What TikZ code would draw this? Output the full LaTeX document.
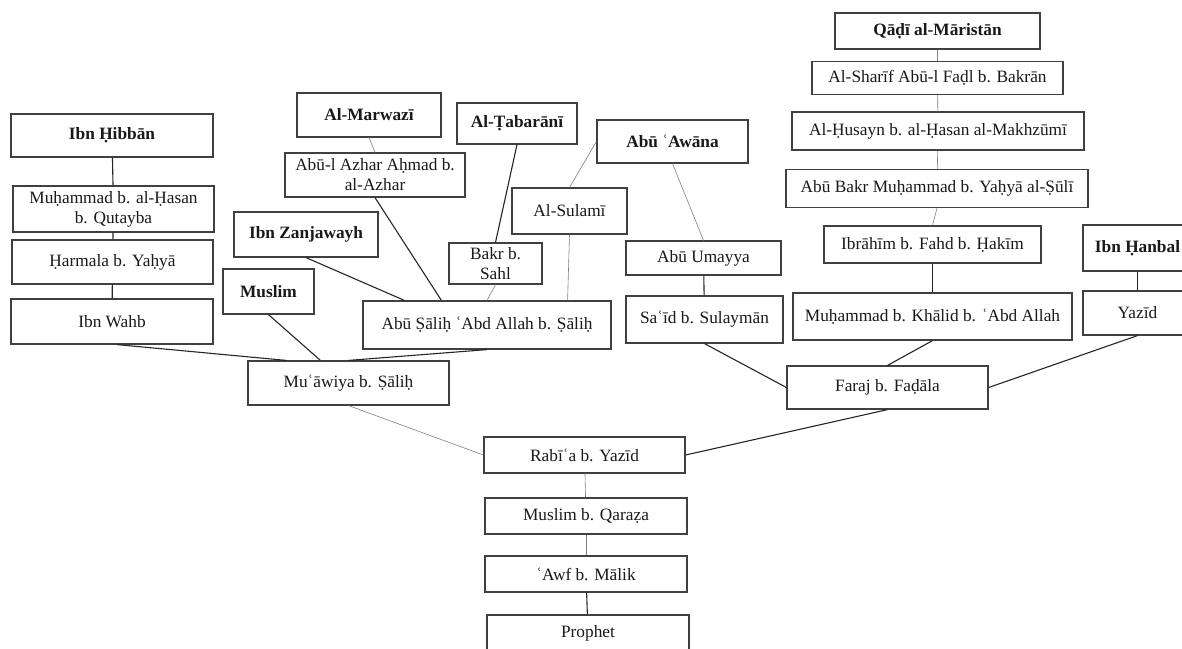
\documentclass[tikz,border=0pt]{standalone}
\usepackage{fontspec}
\setmainfont{Liberation Serif}
\usetikzlibrary{calc}

\tikzset{
  box/.style={draw=black!75, line width=1.2pt, fill=white, inner sep=0pt,
    align=center, text=black!90, font=\fontsize{17.3}{20}\selectfont},
  head/.style={box, font=\fontsize{17.3}{20}\selectfont\bfseries},
  link/.style={draw=black!85, line width=1.1pt},
  faint/.style={draw=black!50, line width=0.6pt},
}

% place a box by its pixel centre and size
\newcommand{\bx}[6][box]{%
  \node[#1, minimum width=#4pt, minimum height=#5pt] (#2) at (#3) {#6};}

\begin{document}
\begin{tikzpicture}[x=1pt, y=-1pt]
\useasboundingbox (0,0) rectangle (1182,648);
\clip (0,0) rectangle (1182,648);
\fill[white] (0,0) rectangle (1182,648);

% --- Ibn Hibban chain
\bx[head]{hibban}{112,135.5}{202}{43}{Ibn Ḥibbān}
\bx{qutayba}{113.5,209}{201}{46}{Muḥammad b. al-Ḥasan\\b. Qutayba}
\bx{harmala}{112.5,262}{201}{44}{Ḥarmala b. Yaḥyā}
\bx{wahb}{112,321.5}{202}{45}{Ibn Wahb}

% --- collectors around Abu Salih
\bx[head]{muslim}{268.5,291.5}{91}{45}{Muslim}
\bx[head]{zanjawayh}{306,234.5}{144}{45}{Ibn Zanjawayh}
\bx[head]{marwazi}{369,115}{144}{44}{Al-Marwazī}
\bx{azhar}{375,175}{180}{44}{Abū-l Azhar Aḥmad b.\\al-Azhar}
\bx[head]{tabarani}{517,123.5}{120}{41}{Al-Ṭabarānī}
\bx{bakr}{495.5,263.5}{93}{41}{Bakr b.\\Sahl}
\bx{sulami}{569.5,211}{115}{46}{Al-Sulamī}
\bx[head]{awana}{672.5,141.5}{151}{43}{Abū ʿAwāna}
\bx{abusalih}{487,325}{248}{48}{Abū Ṣāliḥ ʿAbd Allah b. Ṣāliḥ}
\bx{muawiya}{348.5,383}{201}{44}{Muʿāwiya b. Ṣāliḥ}

% --- Faraj branch
\bx{umayya}{703.5,258}{155}{34}{Abū Umayya}
\bx{said}{704.5,319.5}{157}{47}{Saʿīd b. Sulaymān}
\bx[head]{qadi}{937.5,31}{205}{36}{Qāḍī al-Māristān}
\bx{sharif}{937.5,78}{251}{33}{Al-Sharīf Abū-l Faḍl b. Bakrān}
\bx{husayn}{938,131}{292}{38}{Al-Ḥusayn b. al-Ḥasan al-Makhzūmī}
\bx{suli}{937,188.5}{302}{38}{Abū Bakr Muḥammad b. Yaḥyā al-Ṣūlī}
\bx{ibrahim}{932.5,244.5}{217}{37}{Ibrāhīm b. Fahd b. Ḥakīm}
\bx{khalid}{932.5,316.5}{279}{47}{Muḥammad b. Khālid b. ʿAbd Allah}
\bx[head]{hanbal}{1137.5,248}{109}{46}{Ibn Ḥanbal}
\bx{yazid}{1137.5,313}{109}{44}{Yazīd}
\bx{faraj}{887.5,387.5}{201}{43}{Faraj b. Faḍāla}

% --- common trunk
\bx{rabia}{584.5,455}{201}{36}{Rabīʿa b. Yazīd}
\bx{qaraza}{586,516}{202}{36}{Muslim b. Qaraẓa}
\bx{awf}{586,574}{202}{36}{ʿAwf b. Mālik}
\bx{prophet}{588,633.5}{202}{37}{Prophet}

% --- connectors
\draw[link] (hibban) -- (qutayba);
\draw[link] (qutayba) -- (harmala);
\draw[link] (harmala) -- (wahb);
\draw[link] ($(wahb.south)+(5,0)$) -- ($(muawiya.north west)+(39,0)$);
\draw[link] (muslim.south) -- ($(muawiya.north west)+(73,0)$);
\draw[link] (abusalih.south) -- (muawiya.north);
\draw[link] (zanjawayh.south) -- ($(abusalih.north west)+(42,0)$);
\draw[faint] (marwazi.south) -- (azhar.north);
\draw[link] (azhar.south) -- ($(abusalih.north west)+(79,0)$);
\draw[link] (tabarani.south) -- (bakr.north);
\draw[faint] (bakr.south) -- (abusalih.north);
\draw[faint] (awana.west) -- (sulami.north);
\draw[faint] (sulami.south) -- ($(abusalih.north east)+(-44,0)$);
\draw[faint] (awana.south) -- (umayya.north);
\draw[link] (umayya) -- (said);
\draw[link] (said.south) -- (faraj.west);
\draw[faint] (qadi) -- (sharif);
\draw[faint] (sharif) -- (husayn);
\draw[faint] (husayn) -- (suli);
\draw[faint] (suli.south) -- (ibrahim.north);
\draw[link] (ibrahim) -- (khalid);
\draw[link] (khalid.south) -- (faraj.north);
\draw[link] (hanbal) -- (yazid);
\draw[link] (yazid.south) -- (faraj.east);
\draw[link] (faraj.south) -- (rabia.east);
\draw[faint] (muawiya.south) -- (rabia.west);
\draw[faint] (rabia) -- (qaraza);
\draw[faint] (qaraza) -- (awf);
\draw[link] (awf) -- (prophet);
\end{tikzpicture}
\end{document}
